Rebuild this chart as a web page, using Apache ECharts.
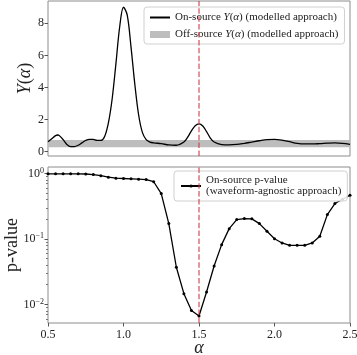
<!DOCTYPE html>
<html><head><meta charset="utf-8">
<script src="https://cdn.jsdelivr.net/npm/echarts@6/dist/echarts.min.js"></script>
<style>html,body{margin:0;padding:0;background:#fff}#c{width:357px;height:355px}</style>
</head><body><div id="c"></div>
<script>
// ---- data ----
const alphaTop = [0.5,0.525,0.55,0.565,0.575,0.6,0.625,0.65,0.675,0.7,0.725,0.75,0.775,0.8,0.825,0.85,0.875,0.9,0.925,0.95,0.975,1.0,1.025,1.05,1.075,1.1,1.125,1.15,1.175,1.2,1.25,1.3,1.35,1.4,1.425,1.45,1.475,1.5,1.525,1.55,1.575,1.6,1.65,1.7,1.75,1.8,1.85,1.9,1.95,2.0,2.05,2.1,2.15,2.2,2.25,2.3,2.35,2.4,2.45,2.5];
const onSourceY = [0.62,0.80,1.00,1.04,1.00,0.75,0.45,0.32,0.32,0.40,0.55,0.70,0.77,0.76,0.70,0.70,0.95,1.8,3.3,5.5,7.8,9.0,8.5,6.5,4.2,2.3,1.2,0.75,0.60,0.55,0.50,0.42,0.40,0.60,0.90,1.30,1.62,1.73,1.60,1.25,0.85,0.60,0.44,0.42,0.45,0.52,0.60,0.68,0.75,0.77,0.72,0.62,0.52,0.48,0.48,0.50,0.53,0.55,0.52,0.46];
const alphaBand = [0.5,1.0,1.5,2.0,2.5];
const offLower = [0.27,0.27,0.27,0.27,0.27];
const offUpper = [0.72,0.72,0.72,0.72,0.72];
const alphaP = [0.5,0.55,0.6,0.65,0.7,0.75,0.8,0.85,0.9,0.95,1.0,1.05,1.1,1.15,1.2,1.25,1.3,1.35,1.4,1.45,1.5,1.55,1.6,1.65,1.7,1.75,1.8,1.85,1.9,1.95,2.0,2.05,2.1,2.15,2.2,2.25,2.3,2.35,2.4,2.45,2.5];
const pValue = [0.99,0.99,0.99,0.99,0.99,0.985,0.965,0.93,0.88,0.85,0.84,0.83,0.82,0.81,0.75,0.495,0.172,0.037,0.0146,0.0081,0.00665,0.0155,0.0387,0.082,0.144,0.198,0.205,0.203,0.172,0.131,0.101,0.087,0.080,0.080,0.080,0.087,0.110,0.236,0.348,0.405,0.466];
const xTicks = [0.5,1.0,1.5,2.0,2.5];
const yTicksTop = [0,2,4,6,8];
const pTicks = [0.01,0.1,1];
const pMinorTicks = [0.006,0.007,0.008,0.009,0.02,0.03,0.04,0.05,0.06,0.07,0.08,0.09,0.2,0.3,0.4,0.5,0.6,0.7,0.8,0.9];
const vLine = 1.5;
const legendTop = ['On-source Y(α) (modelled approach)','Off-source Y(α) (modelled approach)'];
const legendBottom = 'On-source p-value\n(waveform-agnostic approach)';

// ---- chart ----
const FONT = '"Liberation Serif", "DejaVu Serif", serif';
const frame = '#8c8c8c';
const chart = echarts.init(document.getElementById('c'), null, {renderer:'canvas'});
const dashStyle = {color:'rgba(205,60,70,0.72)', width:1.5, type:[5.5,2.4]};
const richMath = {
  i:{fontFamily:FONT, fontStyle:'italic', fontSize:11, color:'#222'}
};
function mathLegend(name){
  return name.replace('Y(α)', '{i|Y}({i|α})');
}
const bandData = alphaBand.map((a,i)=>[a, offLower[i], offUpper[i]]);
const option = {
  animation:false,
  backgroundColor:'#fff',
  textStyle:{fontFamily:FONT},
  grid:[
    {left:48, top:1, width:302, height:155, show:true, borderColor:frame, borderWidth:1, backgroundColor:'transparent', containLabel:false, outerBoundsMode:'none'},
    {left:48, top:167, width:302, height:156, show:true, borderColor:frame, borderWidth:1, backgroundColor:'transparent', containLabel:false, outerBoundsMode:'none'}
  ],
  legend:[
    {
      id:'lgTop', orient:'vertical', left:144, top:7,
      data:[
        {name:legendTop[0], itemStyle:{opacity:0}},
        {name:legendTop[1], icon:'rect', itemStyle:{color:'#bdbdbd'}}
      ],
      itemWidth:20, itemHeight:7, itemGap:6,
      formatter:mathLegend,
      backgroundColor:'rgba(255,255,255,0.85)', borderColor:'#d0d0d0', borderWidth:1, borderRadius:3,
      padding:[5,6,4,5],
      textStyle:{fontFamily:FONT, fontSize:11, color:'#222', rich:richMath}
    },
    {
      id:'lgBot', orient:'vertical', left:174, top:171,
      data:[{name:legendBottom}],
      itemWidth:20, itemHeight:4,
      backgroundColor:'rgba(255,255,255,0.85)', borderColor:'#d0d0d0', borderWidth:1, borderRadius:3,
      padding:[4,6,4,6],
      textStyle:{fontFamily:FONT, fontSize:11, color:'#222', lineHeight:11}
    }
  ],
  xAxis:[
    {gridIndex:0, type:'value', min:0.5, max:2.5, interval:0.5,
      axisLine:{show:false}, axisTick:{show:false}, axisLabel:{show:false}, splitLine:{show:false}},
    {gridIndex:1, type:'value', min:0.5, max:2.5, interval:0.5,
      axisLine:{show:false}, splitLine:{show:false},
      axisTick:{show:true, length:3.5, lineStyle:{color:'#555'}, customValues:xTicks},
      axisLabel:{customValues:xTicks, fontFamily:FONT, fontSize:12, color:'#222', margin:6, formatter:v=>v.toFixed(1)},
      name:'α', nameLocation:'middle', nameGap:16, nameMoveOverlap:false,
      nameTextStyle:{fontFamily:FONT, fontSize:18, fontStyle:'italic', color:'#222'}}
  ],
  yAxis:[
    {gridIndex:0, type:'value', min:-0.27, max:9.39, position:'left',
      axisLine:{show:false}, splitLine:{show:false},
      axisTick:{show:true, length:3.5, lineStyle:{color:'#555'}, customValues:yTicksTop},
      axisLabel:{customValues:yTicksTop, fontFamily:FONT, fontSize:12, color:'#222', margin:4},
      name:'{r|Y}({r|α})', nameLocation:'middle', nameGap:14, nameRotate:90, nameMoveOverlap:false,
      nameTextStyle:{fontFamily:FONT, fontSize:18, color:'#222',
        rich:{r:{fontFamily:FONT, fontSize:18, fontStyle:'italic', color:'#222'}}}},
    {gridIndex:1, type:'log', logBase:10, min:0.0052, max:1.26, position:'left',
      axisLine:{show:false}, splitLine:{show:false}, minorTick:{show:false},
      axisTick:{show:true, length:3.5, lineStyle:{color:'#555'}, customValues:pTicks},
      axisLabel:{customValues:pTicks, fontFamily:FONT, fontSize:12, color:'#222', margin:4,
        formatter:function(v){
          const e = Math.round(Math.log10(v));
          const s = e < 0 ? '\u2212' + (-e) : String(e);
          return '{b|10}{s|' + s + '}';
        },
        rich:{
          b:{fontFamily:FONT, fontSize:12, color:'#222', lineHeight:14},
          s:{fontFamily:FONT, fontSize:8, color:'#222', verticalAlign:'top', lineHeight:14, padding:[0,0,6,0]}
        }},
      name:'p-value', nameLocation:'middle', nameGap:27, nameRotate:90, nameMoveOverlap:false,
      nameTextStyle:{fontFamily:FONT, fontSize:18, color:'#222'}},
    {gridIndex:1, type:'log', logBase:10, min:0.0052, max:1.26, position:'left', offset:0,
      axisLine:{show:false}, splitLine:{show:false}, minorTick:{show:false},
      axisTick:{show:true, length:2, lineStyle:{color:'#777'}, customValues:pMinorTicks},
      axisLabel:{show:false}}
  ],
  series:[
    {name:legendTop[1], type:'custom', xAxisIndex:0, yAxisIndex:0, silent:true, color:'#bdbdbd', z:1,
      data:bandData,
      renderItem:function(params, api){
        if (params.dataIndex !== 0) return null;
        const top = [], bot = [];
        for (let i = 0; i < bandData.length; i++) {
          top.push(api.coord([bandData[i][0], bandData[i][2]]));
          bot.unshift(api.coord([bandData[i][0], bandData[i][1]]));
        }
        return {type:'polygon', shape:{points:top.concat(bot)}, style:{fill:'#bdbdbd'}};
      }},
    {name:legendTop[0], type:'line', xAxisIndex:0, yAxisIndex:0, color:'#000',
      data:alphaTop.map((a,i)=>[a, onSourceY[i]]), symbol:'none', smooth:0.35,
      lineStyle:{color:'#000', width:1.3}, z:3,
      markLine:{symbol:'none', silent:true, label:{show:false}, lineStyle:dashStyle, data:[{xAxis:vLine}]}},
    {name:legendBottom, type:'line', xAxisIndex:1, yAxisIndex:1, color:'#000',
      data:alphaP.map((a,i)=>[a, pValue[i]]), symbol:'circle', symbolSize:3, showSymbol:true,
      itemStyle:{color:'#000'}, lineStyle:{color:'#000', width:1.3}, z:3,
      markLine:{symbol:'none', silent:true, label:{show:false}, lineStyle:dashStyle, data:[{xAxis:vLine}]}}
  ]
};
chart.setOption(option);
</script></body></html>
